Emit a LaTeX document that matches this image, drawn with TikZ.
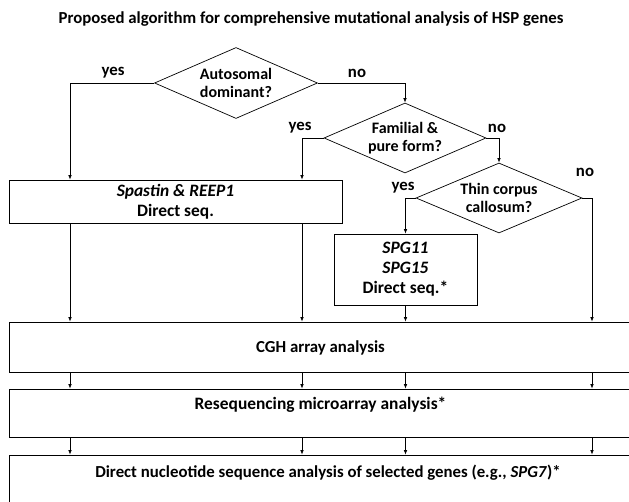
\documentclass[tikz,border=0pt]{standalone}
\usepackage{fontspec}
\setmainfont{Carlito}
\usetikzlibrary{arrows.meta, positioning, shapes.geometric}

\begin{document}
\begin{tikzpicture}[x=1pt, y=-1pt,
    every node/.style={font=\fontsize{16.8}{18}\selectfont\bfseries},
    decision/.style={draw, diamond, aspect=2.3, inner sep=0pt, align=center, line width=0.7pt,
        font=\fontsize{16}{18}\selectfont\bfseries},
    box/.style={draw, rectangle, inner sep=0pt, align=center, line width=0.7pt,
        font=\fontsize{17.4}{20}\selectfont\bfseries},
    bandtext/.style={anchor=center},
    wire/.style={line width=0.7pt},
    arr/.style={wire, -{Latex[length=4.5pt, width=3.5pt]}}]

    \useasboundingbox (0,0) rectangle (629,502);

    % Title
    \node (title) at (311,19) {Proposed algorithm for comprehensive mutational analysis of HSP genes};

    % Vertical lanes
    \coordinate (lane1) at (70,0);
    \coordinate (lane2) at (302,0);
    \coordinate (lane4) at (592,0);

    % Decisions
    \node[decision, minimum width=163pt, minimum height=71pt] (auto) at (236,83) {Autosomal\\dominant?};
    \node[decision, minimum width=162pt, minimum height=70pt] (fam) at (405,138) {Familial \&\\pure form?};
    \node[decision, minimum width=166pt, minimum height=70pt] (thin) at (499,198) {Thin corpus\\callosum?};

    % Gene boxes
    \node[box, minimum width=333pt, minimum height=43pt] (spastin) at (175.5,201.5)
        {\textit{Spastin \& REEP1}\\Direct seq.};
    \node[box, minimum width=143pt, minimum height=71pt] (spg) at (405.5,269.5)
        {\textit{SPG11}\\\textit{SPG15}\\Direct seq.*};

    % Analysis bands (cut at the right edge)
    \node[box, minimum width=623pt, minimum height=50pt,
        label={[bandtext, yshift=-26pt]north:CGH array analysis}] (cgh) at (320.5,347) {};
    \node[box, minimum width=623pt, minimum height=48pt,
        label={[bandtext, yshift=-16pt, font=\fontsize{17.4}{18}\selectfont\bfseries]north:Resequencing microarray analysis*}] (reseq) at (320.5,413) {};
    \node[box, minimum width=638pt, minimum height=70pt,
        label={[bandtext, yshift=-18pt]north:Direct nucleotide sequence analysis of selected genes (e.g., \textit{SPG7})*}] (direct) at (328,490) {};

    % Branches
    \draw[arr] (auto.west) -| (spastin.north -| lane1);
    \draw[arr] (auto.east) -| (fam.north);
    \draw[arr] (fam.west) -| (spastin.north -| lane2);
    \draw[arr] (fam.east) -| (thin.north);
    \draw[arr] (thin.west) -| (spg.north);
    \draw[arr] (thin.east) -| (cgh.north -| lane4);

    \node at (113,73) {yes};
    \node at (357,73) {no};
    \node at (300,128) {yes};
    \node at (497,128) {no};
    \node at (403,188) {yes};
    \node at (585,172) {no};

    % Into the bands
    \draw[arr] (spastin.south -| lane1) -- (cgh.north -| lane1);
    \draw[arr] (spastin.south -| lane2) -- (cgh.north -| lane2);
    \draw[arr] (spg.south) -- (cgh.north -| spg.south);
    \foreach \lane in {lane1, lane2, spg, lane4} {
        \draw[arr] (cgh.south -| \lane) -- (reseq.north -| \lane);
        \draw[arr] (reseq.south -| \lane) -- (direct.north -| \lane);
    }
\end{tikzpicture}
\end{document}
